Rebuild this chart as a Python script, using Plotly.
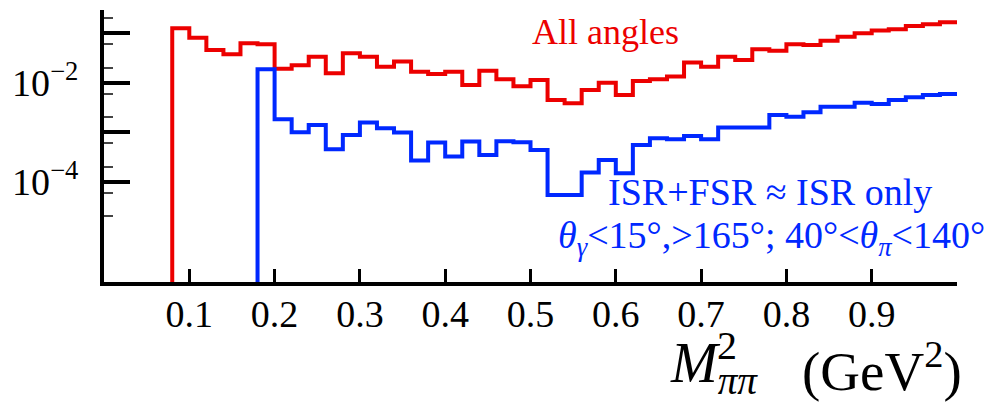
import plotly.graph_objects as go

# Bin low edges (GeV^2), bin width 0.02, last edge 1.00
bin_edges = [0.08, 0.10, 0.12, 0.14, 0.16, 0.18, 0.20, 0.22, 0.24, 0.26,
             0.28, 0.30, 0.32, 0.34, 0.36, 0.38, 0.40, 0.42, 0.44, 0.46,
             0.48, 0.50, 0.52, 0.54, 0.56, 0.58, 0.60, 0.62, 0.64, 0.66,
             0.68, 0.70, 0.72, 0.74, 0.76, 0.78, 0.80, 0.82, 0.84, 0.86,
             0.88, 0.90, 0.92, 0.94, 0.96, 0.98, 1.00]

# "All angles" (red), one value per bin 0.08..0.98
all_angles = [0.126, 0.0815, 0.0459, 0.0377, 0.0628, 0.060, 0.0192, 0.0225, 0.0336, 0.0155,
              0.0394, 0.0336, 0.0211, 0.0267, 0.0167, 0.0150, 0.0167, 0.00902, 0.0175, 0.01175,
              0.00849, 0.01137, 0.00449, 0.00385, 0.00714, 0.01003, 0.00566, 0.01086, 0.01175, 0.01327,
              0.0255, 0.0211, 0.0336, 0.0289, 0.0475, 0.0445, 0.060, 0.0581, 0.0709, 0.0853,
              0.100, 0.113, 0.1206, 0.1406, 0.152, 0.1668]

# "ISR+FSR ~ ISR only" with angular cuts (blue), bins 0.18..0.98
cut_edges = bin_edges[5:]
cut_angles = [0.0187, 0.00183, 0.000998, 0.0014, 0.000452, 0.00088, 0.00156, 0.0012, 0.00098, 0.000266,
              0.000615, 0.000321, 0.000645, 0.000347, 0.000656, 0.000627, 0.000438, 0.0000538, 0.0000538, 0.000152,
              0.000275, 0.000148, 0.000552, 0.000755, 0.00072, 0.00084, 0.00072, 0.00124, 0.00124, 0.00124,
              0.00223, 0.00206, 0.00253, 0.00328, 0.00328, 0.00395, 0.00372, 0.00449, 0.00509, 0.00566,
              0.00593]

y_floor = 1e-8  # below the visible range: vertical drop at the first edge

major_vals = [1e-1, 1e-2, 1e-3, 1e-4]
major_text = ["", "10<sup>\u22122</sup>", "", "10<sup>\u22124</sup>"]
minor_vals = [2e-1, 6e-2, 2e-2, 6e-3, 2e-3, 6e-4, 2e-4, 6e-5, 2e-5]
x_ticks = [0.1, 0.2, 0.3, 0.4, 0.5, 0.6, 0.7, 0.8, 0.9]
x_ticktext = ["0.1", "0.2", "0.3", "0.4", "0.5", "0.6", "0.7", "0.8", "0.9"]

RED = "rgb(236,0,0)"
BLUE = "rgb(0,40,255)"
FONT = "Liberation Serif"


def step_xy(edges, vals):
    xs = [edges[0]] + list(edges)
    ys = [y_floor] + list(vals) + [vals[-1]]
    return xs, ys


fig = go.Figure()
rx, ry = step_xy(bin_edges, all_angles)
fig.add_trace(go.Scatter(x=rx, y=ry, mode="lines", line=dict(color=RED, width=4, shape="hv"),
                         showlegend=False, hoverinfo="skip"))
bx, by = step_xy(cut_edges, cut_angles)
fig.add_trace(go.Scatter(x=bx, y=by, mode="lines", line=dict(color=BLUE, width=4, shape="hv"),
                         showlegend=False, hoverinfo="skip"))

L, R, T, B = 104, 38, 10, 120
W, H = 995, 402
pw, ph = W - L - R, H - T - B


def px(xp):
    return (xp - L) / pw


def py(yp):
    return (H - B - yp) / ph


fig.update_layout(
    width=W, height=H,
    margin=dict(l=L, r=R, t=T, b=B, pad=0),
    plot_bgcolor="white", paper_bgcolor="white",
    font=dict(family=FONT, color="black", size=38),
    xaxis=dict(range=[0, 1.0], showline=True, linecolor="black", linewidth=4,
               showgrid=False, zeroline=False, ticks="inside", ticklen=13, tickwidth=3,
               tickcolor="black", tickmode="array", tickvals=x_ticks, ticktext=x_ticktext,
               tickfont=dict(family=FONT, size=38), ticklabelstandoff=-5),
    yaxis=dict(type="log", range=[-6.03, -0.53], showline=True, linecolor="black", linewidth=4,
               showgrid=False, zeroline=False, ticks="inside", ticklen=26, tickwidth=4,
               tickcolor="black", tickmode="array", tickvals=major_vals, ticktext=major_text,
               tickfont=dict(family=FONT, size=38), ticklabelstandoff=14,
               minor=dict(tickmode="array", tickvals=minor_vals, ticks="inside", ticklen=9,
                          tickwidth=2, tickcolor="#444", showgrid=False)),
)

annotations = [
    dict(text="All angles", x=px(605), y=py(32), font=dict(color=RED, size=36, family=FONT)),
    dict(text="ISR+FSR \u2248 ISR only", x=px(770), y=py(192), font=dict(color=BLUE, size=38, family=FONT)),
    dict(text="<i>\u03b8</i><sub><i>\u03b3</i></sub>&lt;15\u00b0,&gt;165\u00b0; 40\u00b0&lt;<i>\u03b8</i><sub><i>\u03c0</i></sub>&lt;140\u00b0",
         x=px(771), y=py(238), font=dict(color=BLUE, size=38, family=FONT)),
    dict(text="<i>M</i><sub><i>\u03c0\u03c0</i></sub>", x=px(668), y=py(367), xanchor="left",
         font=dict(size=56, family=FONT)),
    dict(text="2", x=px(727), y=py(345), font=dict(size=40, family=FONT)),
    dict(text="(GeV<sup>2</sup>)", x=px(964), y=py(367), xanchor="right", font=dict(size=55, family=FONT)),
]
for a in annotations:
    a.setdefault("xanchor", "center")
    a.setdefault("yanchor", "middle")
    a.update(xref="paper", yref="paper", showarrow=False)
    fig.add_annotation(**a)

fig.write_html("out.html")
